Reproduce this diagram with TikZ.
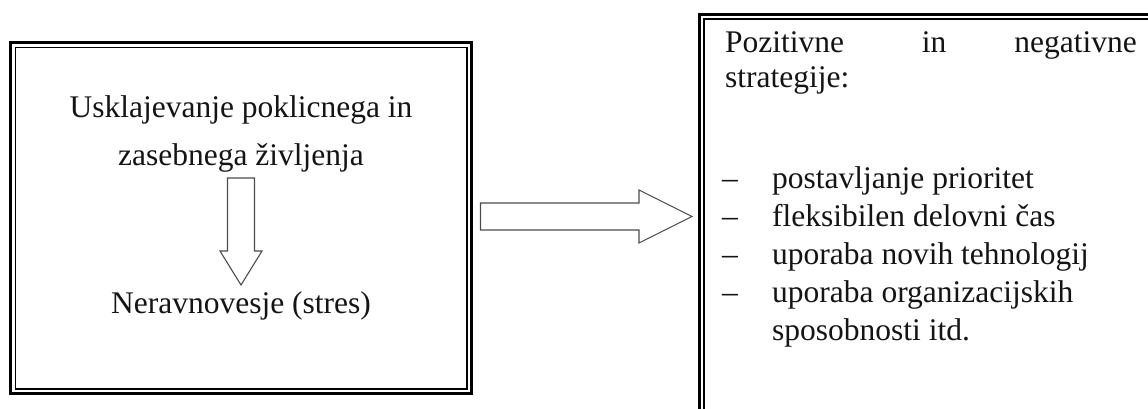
\documentclass[tikz,border=0pt]{standalone}
\usepackage{fontspec}
\setmainfont{Liberation Serif}
\begin{document}
\begin{tikzpicture}[x=1pt,y=-1pt,
  txt/.style={inner sep=0pt,font=\fontsize{31.5}{38}\selectfont,text=black!92},
  outerline/.style={draw=black,line width=3pt},
  innerline/.style={draw=black,line width=1.2pt},
  blockarrow/.style={draw=black!70,line width=1.1pt,fill=white,line join=miter}]
\useasboundingbox (0,0) rectangle (1148,409);
\clip (0,0) rectangle (1148,409);

% left frame (double border)
\draw[outerline] (10.5,43) rectangle (471.5,393.5);
\draw[innerline] (15.5,47.5) rectangle (467,389);

% right frame (double border, runs past the page edge)
\draw[outerline] (699.5,14.5) rectangle (1170,430);
\draw[innerline] (704,19) rectangle (1165,425);

% left frame contents
\node[txt,anchor=base] (t1) at (241,118) {Usklajevanje poklicnega in};
\node[txt,anchor=base] (t2) at (241,165) {zasebnega življenja};
\node[txt,anchor=base] (t3) at (241,313) {Neravnovesje (stres)};

% downward block arrow
\draw[blockarrow] (227.5,178) -- (254.5,178) -- (254.5,251) -- (262,251)
  -- (241,285) -- (220,251) -- (227.5,251) -- cycle;

% block arrow between the frames
\coordinate (ha) at (480.5,216.5);
\draw[blockarrow] (480.5,203) -- (639,203) -- (639,190) -- (692,216.5)
  -- (639,243) -- (639,230) -- (480.5,230) -- cycle;

% right frame contents
\node[txt,anchor=base west] (p1) at (725,53) {Pozitivne};
\node[txt,anchor=base] (p2) at (934,53) {in};
\node[txt,anchor=base east] (p3) at (1137,53) {negativne};
\node[txt,anchor=base west] (p4) at (725,88) {strategije:};

\foreach \y/\t [count=\i] in {188/postavljanje prioritet,
    226/fleksibilen delovni čas,
    264/uporaba novih tehnologij,
    302/uporaba organizacijskih}{
  \node[txt,anchor=base west] (d\i) at (722,\y) {–};
  \node[txt,anchor=base west] (l\i) at (772,\y) {\t};
}
\node[txt,anchor=base west] (l5) at (772,340) {sposobnosti itd.};
\end{tikzpicture}
\end{document}
